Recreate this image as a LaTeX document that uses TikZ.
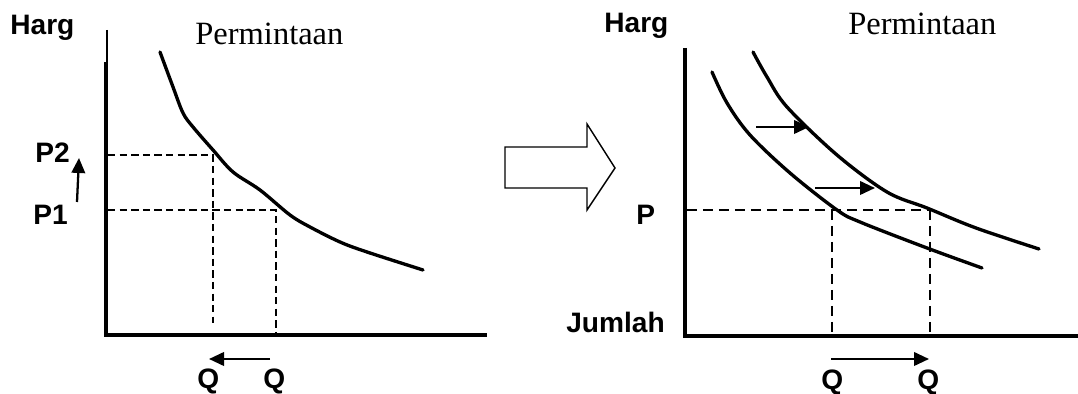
\documentclass[tikz,border=0pt]{standalone}
\usepackage{fontspec}
\setmainfont{Liberation Serif}
\setsansfont{Liberation Sans}
\usetikzlibrary{arrows.meta,positioning}

\begin{document}
\begin{tikzpicture}[x=0.02cm, y=-0.02cm,
  axis/.style={line width=2.6pt},
  curve/.style={line width=1.9pt, line cap=round},
  guide/.style={line width=1.1pt, dash pattern=on 4.2pt off 2.4pt},
  guidewide/.style={line width=1.5pt, dash pattern=on 5.7pt off 3.4pt},
  arrow/.style={-{Triangle[length=3mm, width=2.7mm]}, line width=1.3pt},
  txt/.style={font=\sffamily\bfseries\fontsize{16}{19}\selectfont, inner sep=0pt, anchor=base west},
  title/.style={font=\fontsize{18.5}{22}\selectfont, inner sep=0pt, anchor=base west}]
\useasboundingbox (0,0) rectangle (1078,394);

% left panel
\node[txt] (hargL) at (10,35) {Harg};
\node[title] (demL) at (195,45) {Permintaan};
\node[txt] (p2) at (35,163) {P2};
\node[txt] (p1) at (33,225) {P1};
\node[txt] (qaL) at (197,389) {Q};
\node[txt] (qbL) at (263,389) {Q};
\coordinate (topL) at (107,30);
\coordinate (oL) at (106,335);
\coordinate (endL) at (487,335);
\draw[line width=0.6pt] (topL) -- (107,62);
\draw[axis] (106,62) -- (oL) -- (endL);
\draw[curve] plot[smooth, tension=0.55] coordinates {(160,52) (173,87) (183,113) (193,127) (213,150) (233,172) (260,190) (290,215) (310,227) (340,242) (367,252) (423,270)};
\draw[guide] (108,155) -- (213,155) -- (213,323);
\draw[guide] (108,210) -- (276,210) -- (276,334);
\coordinate (upA) at (77,202);
\coordinate (upB) at (79,158);
\draw[arrow] (upA) -- (upB);
\coordinate (leftA) at (270,359);
\coordinate (leftB) at (209,359);
\draw[arrow] (leftA) -- (leftB);

% shift arrow
\draw[line width=0.8pt] (505,147) -- (587,147) -- (587,124) -- (615,168) -- (587,210) -- (587,188) -- (505,188) -- cycle;

% right panel
\node[txt] (hargR) at (604,33) {Harg};
\node[title] (demR) at (848,35) {Permintaan};
\node[txt] (pR) at (636,225) {P};
\node[txt] (jumlah) at (566,333) {Jumlah};
\node[txt] (qaR) at (821,390) {Q};
\node[txt] (qbR) at (917,390) {Q};
\coordinate (topR) at (685,48);
\coordinate (oR) at (685,336);
\coordinate (endR) at (1078,336);
\draw[axis] (topR) -- (oR) -- (endR);
\draw[curve] plot[smooth, tension=0.55] coordinates {(712,72) (727,103) (750,135) (790,173) (837,210) (860,222) (927,248) (982,268)};
\draw[curve] plot[smooth, tension=0.55] coordinates {(753,52) (767,77) (787,107) (837,155) (887,192) (927,208) (976,228) (1039,249)};
\draw[guidewide] (687,210) -- (930,210);
\draw[guidewide] (832,210) -- (832,335);
\draw[guidewide] (930,210) -- (930,335);
\coordinate (shA) at (756,127);
\coordinate (shB) at (809,127);
\draw[arrow] (shA) -- (shB);
\coordinate (shC) at (815,188);
\coordinate (shD) at (875,188);
\draw[arrow] (shC) -- (shD);
\coordinate (rightA) at (831,359);
\coordinate (rightB) at (929,359);
\draw[arrow] (rightA) -- (rightB);
\end{tikzpicture}
\end{document}
